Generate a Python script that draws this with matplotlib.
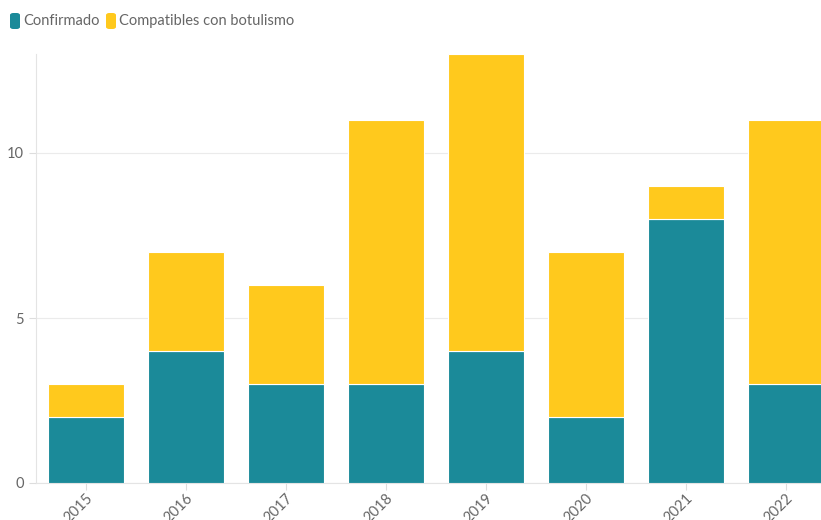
import matplotlib
matplotlib.use("Agg")
import matplotlib.pyplot as plt
from matplotlib.patches import FancyBboxPatch
import numpy as np

# datos
anios = ["2015", "2016", "2017", "2018", "2019", "2020", "2021", "2022"]
confirmado = [2, 4, 3, 3, 4, 2, 8, 3]
compatibles = [1, 3, 3, 8, 9, 5, 1, 8]

azul = "#1b8a99"
amarillo = "#ffc91d"
gris = "#666666"

plt.rcParams["font.family"] = ["Lato", "DejaVu Sans"]

W, H = 821, 520
fig = plt.figure(figsize=(W / 100, H / 100), dpi=100)
ax = fig.add_axes([36 / W, 1 - 483 / H, (W - 36) / W, (483 - 54) / H])

x = np.arange(len(anios))
ax.bar(x, confirmado, width=0.76, color=azul, edgecolor="white", linewidth=0.8, zorder=3)
ax.bar(x, compatibles, bottom=confirmado, width=0.76, color=amarillo, edgecolor="white", linewidth=0.8, zorder=3)

ax.set_xlim(-0.5, 7.35)
ax.set_ylim(0, 13)
ax.set_yticks([0, 5, 10])
ax.set_xticks(x)
ax.set_xticklabels(anios, rotation=45, ha="right", rotation_mode="anchor")
ax.grid(axis="y", color="#ebebeb", linewidth=0.8, zorder=0)

for s in ["top", "right"]:
    ax.spines[s].set_visible(False)
for s in ["left", "bottom"]:
    ax.spines[s].set_color("#e4e4e4")
    ax.spines[s].set_linewidth(0.8)
ax.tick_params(axis="both", colors="#dddddd", labelcolor=gris, labelsize=10.5, length=5, width=0.8)
ax.tick_params(axis="x", pad=1)

# leyenda
items = [("Confirmado", 10, azul), ("Compatibles con botulismo", 106, amarillo)]
for nombre, px, col in items:
    fig.patches.append(FancyBboxPatch((px / W, 1 - 29 / H), 10 / W, 16 / H,
                                      boxstyle="round,pad=0,rounding_size=0.004",
                                      transform=fig.transFigure, facecolor=col, edgecolor="none"))
    fig.text((px + 13) / W, 1 - 21 / H, nombre, color=gris, fontsize=10.5, va="center")

fig.savefig("out.png", dpi=100)
